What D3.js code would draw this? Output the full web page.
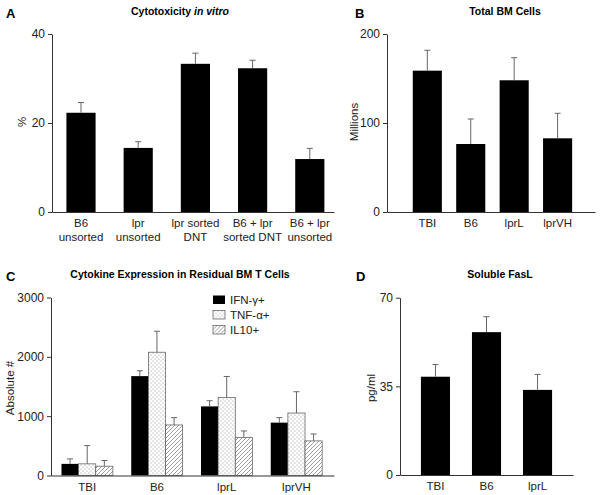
<!DOCTYPE html>
<html>
<head>
<meta charset="utf-8">
<script src="https://cdn.jsdelivr.net/npm/d3@7"></script>
<style>
  body { margin: 0; background: #fff; }
  svg { display: block; font-family: 'Liberation Sans', Arial, sans-serif; }
</style>
</head>
<body>
<div id="chart"></div>
<script>
// Panel A - cytotoxicity in vitro (%)
const cytoCats = ['B6\nunsorted', 'lpr\nunsorted', 'lpr sorted\nDNT', 'B6 + lpr\nsorted DNT', 'B6 + lpr\nunsorted'];
const cytoMean = [22.3, 14.4, 33.3, 32.3, 11.9];
const cytoErr = [2.3, 1.4, 2.4, 1.8, 2.4];
const cytoTicks = [0, 20, 40];

// Panel B - total BM cells (millions)
const bmCats = ['TBI', 'B6', 'lprL', 'lprVH'];
const bmMean = [158.8, 76.4, 148, 82.8];
const bmErr = [22.9, 28.1, 25.4, 28.1];
const bmTicks = [0, 100, 200];

// Panel C - cytokine expression (absolute #)
const ckGroups = ['TBI', 'B6', 'lprL', 'lprVH'];
const ckSeries = ['IFN-γ+', 'TNF-α+', 'IL10+'];
const ifnMean = [196, 1675, 1165, 891];
const ifnErr = [84, 90, 95, 84];
const tnfMean = [196, 2078, 1317, 1053];
const tnfErr = [308, 353, 352, 359];
const il10Mean = [157, 852, 639, 583];
const il10Err = [95, 123, 112, 117];
const ckTicks = [0, 1000, 2000, 3000];

// Panel D - soluble FasL (pg/ml)
const faslCats = ['TBI', 'B6', 'lprL'];
const faslMean = [38.8, 56.4, 33.6];
const faslErr = [4.8, 6.1, 6.1];
const faslTicks = [0, 35, 70];

const W = 602, H = 495;
const axisColor = '#333';
const errColor = '#666';

const svg = d3.select('#chart').append('svg')
  .attr('width', W)
  .attr('height', H);

// fill patterns for panel C
const defs = svg.append('defs');
const dots = defs.append('pattern')
  .attr('id', 'dots')
  .attr('patternUnits', 'userSpaceOnUse')
  .attr('width', 4).attr('height', 4);
dots.append('rect').attr('width', 4).attr('height', 4).attr('fill', '#fff');
dots.append('circle').attr('cx', 1).attr('cy', 1).attr('r', 0.5).attr('fill', '#777');
dots.append('circle').attr('cx', 3).attr('cy', 3).attr('r', 0.5).attr('fill', '#777');

const hatch = defs.append('pattern')
  .attr('id', 'hatch')
  .attr('patternUnits', 'userSpaceOnUse')
  .attr('width', 4).attr('height', 4);
hatch.append('rect').attr('width', 4).attr('height', 4).attr('fill', '#fff');
hatch.append('path')
  .attr('d', 'M-1,1 l2,-2 M0,4 l4,-4 M3,5 l2,-2')
  .attr('stroke', '#777')
  .attr('stroke-width', 0.7);

const seriesFill = ['#000', 'url(#dots)', 'url(#hatch)'];

// shared bits -------------------------------------------------------------
function yAxis(g, y, ticks) {
  g.call(d3.axisLeft(y).tickValues(ticks).tickFormat(d3.format('d'))
    .tickSize(4).tickSizeOuter(0).tickPadding(3));
  g.selectAll('path, line').attr('stroke', axisColor);
  g.selectAll('text')
    .style('font-size', '12px')
    .attr('fill', '#222');
}

function xAxis(g, x, labelY) {
  g.call(d3.axisBottom(x).tickSize(0).tickSizeOuter(0));
  g.select('.domain').attr('stroke', axisColor);
  g.selectAll('.tick text').each(function(d) {
    const t = d3.select(this).text('').attr('y', labelY).attr('dy', null)
      .style('font-size', '11.5px').attr('fill', '#222');
    d.split('\n').forEach((line, i) => {
      t.append('tspan').attr('x', 0).attr('dy', i === 0 ? '0.71em' : '13.5px').text(line);
    });
  });
}

function titles(o) {
  svg.append('text')
    .attr('x', o.lx).attr('y', o.ly)
    .style('font-size', '13px').style('font-weight', 'bold')
    .text(o.letter);
  const t = svg.append('text')
    .attr('x', o.tx).attr('y', o.ty)
    .attr('text-anchor', 'middle')
    .style('font-size', '10.5px').style('font-weight', 'bold');
  o.title.forEach(part => {
    t.append('tspan').style('font-style', part.italic ? 'italic' : 'normal').text(part.text);
  });
  svg.append('text')
    .attr('transform', `translate(${o.yx},${o.yy}) rotate(-90)`)
    .attr('text-anchor', 'middle')
    .style('font-size', '11.5px')
    .attr('fill', '#222')
    .text(o.ylabel);
}

function errorBars(g, rows) {
  // rows: {x, top, base}
  const eb = g.append('g').attr('stroke', errColor).attr('stroke-width', 1);
  rows.forEach(r => {
    eb.append('line').attr('x1', r.x).attr('x2', r.x).attr('y1', r.base).attr('y2', r.top);
    eb.append('line').attr('x1', r.x - 3).attr('x2', r.x + 3).attr('y1', r.top).attr('y2', r.top);
  });
}

// simple black bar panel (A, B, D)
function barPanel(p) {
  const x = d3.scaleBand().domain(p.cats).range(p.xr)
    .paddingInner(p.pi).paddingOuter(p.po).align(p.align);
  const y = d3.scaleLinear().domain([0, p.ymax]).range(p.yr);
  const g = svg.append('g');

  g.selectAll('rect').data(p.cats).enter().append('rect')
    .attr('x', d => x(d))
    .attr('width', x.bandwidth())
    .attr('y', (d, i) => y(p.mean[i]))
    .attr('height', (d, i) => y(0) - y(p.mean[i]))
    .attr('fill', '#000');

  errorBars(g, p.cats.map((d, i) => ({
    x: x(d) + x.bandwidth() / 2,
    top: y(p.mean[i] + p.err[i]),
    base: y(p.mean[i])
  })));

  g.append('g').attr('transform', `translate(${p.xr[0]},0)`).call(yAxis, y, p.ticks);
  g.append('g').attr('transform', `translate(0,${y(0)})`).call(xAxis, x, 7);
}

// A
barPanel({ cats: cytoCats, mean: cytoMean, err: cytoErr, ticks: cytoTicks, ymax: 40,
  xr: [52, 334], yr: [212, 34], pi: 0.49, po: 0.21, align: 0.6 });
titles({ letter: 'A', lx: 6, ly: 18, tx: 180, ty: 15,
  title: [{ text: 'Cytotoxicity ' }, { text: 'in vitro', italic: true }],
  ylabel: '%', yx: 26, yy: 122 });

// B
barPanel({ cats: bmCats, mean: bmMean, err: bmErr, ticks: bmTicks, ymax: 200,
  xr: [387, 595], yr: [212, 34], pi: 0.33, po: 0.56, align: 0.53 });
titles({ letter: 'B', lx: 355, ly: 18, tx: 505, ty: 15,
  title: [{ text: 'Total BM Cells' }],
  ylabel: 'Millions', yx: 358, yy: 122 });

// D
barPanel({ cats: faslCats, mean: faslMean, err: faslErr, ticks: faslTicks, ymax: 70,
  xr: [400, 573], yr: [475, 297.7], pi: 0.43, po: 0.41, align: 0.5 });
titles({ letter: 'D', lx: 356, ly: 281, tx: 500, ty: 278,
  title: [{ text: 'Soluble FasL' }],
  ylabel: 'pg/ml', yx: 375, yy: 388 });

// C - grouped bars with patterns
(function() {
  const means = [ifnMean, tnfMean, il10Mean];
  const errs = [ifnErr, tnfErr, il10Err];
  const x0 = d3.scaleBand().domain(ckGroups).range([51, 334])
    .paddingInner(0.263).paddingOuter(0.16).align(0.47);
  const x1 = d3.scaleBand().domain(ckSeries).range([0, x0.bandwidth()]);
  const y = d3.scaleLinear().domain([0, 3000]).range([475.5, 297.5]);
  const g = svg.append('g');

  ckSeries.forEach((s, si) => {
    g.append('g').selectAll('rect').data(ckGroups).enter().append('rect')
      .attr('x', d => x0(d) + x1(s))
      .attr('width', x1.bandwidth())
      .attr('y', (d, i) => y(means[si][i]))
      .attr('height', (d, i) => y(0) - y(means[si][i]))
      .attr('fill', seriesFill[si])
      .attr('stroke', si === 0 ? 'none' : '#555')
      .attr('stroke-width', 0.7);
  });

  ckSeries.forEach((s, si) => {
    errorBars(g, ckGroups.map((d, i) => ({
      x: x0(d) + x1(s) + x1.bandwidth() / 2,
      top: y(means[si][i] + errs[si][i]),
      base: y(means[si][i])
    })));
  });

  g.append('g').attr('transform', 'translate(51,0)').call(yAxis, y, ckTicks);
  g.append('g').attr('transform', `translate(0,${y(0)})`).call(xAxis, x0, 7);

  // legend
  const leg = g.append('g').attr('transform', 'translate(213,295.5)');
  ckSeries.forEach((s, si) => {
    const row = leg.append('g').attr('transform', `translate(0,${si * 15})`);
    row.append('rect')
      .attr('width', 12).attr('height', 8.5)
      .attr('fill', seriesFill[si])
      .attr('stroke', si === 0 ? 'none' : '#555')
      .attr('stroke-width', 0.7);
    row.append('text')
      .attr('x', 17).attr('y', 8.5)
      .style('font-size', '11.5px')
      .attr('fill', '#222')
      .text(s);
  });
})();
titles({ letter: 'C', lx: 6, ly: 281, tx: 180, ty: 278,
  title: [{ text: 'Cytokine Expression in Residual BM T Cells' }],
  ylabel: 'Absolute #', yx: 14, yy: 388 });
</script>
</body>
</html>
